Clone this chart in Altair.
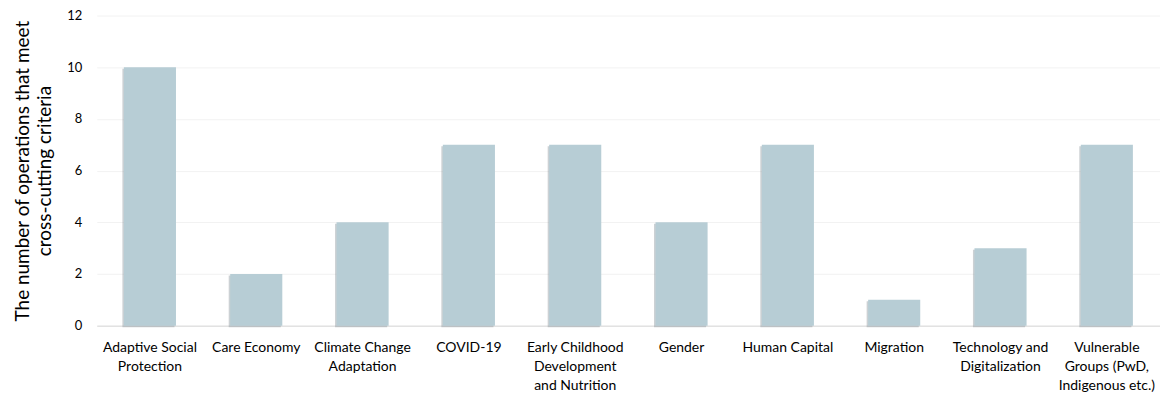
import altair as alt
import pandas as pd

categories = [
    "Adaptive Social Protection",
    "Care Economy",
    "Climate Change Adaptation",
    "COVID-19",
    "Early Childhood Development and Nutrition",
    "Gender",
    "Human Capital",
    "Migration",
    "Technology and Digitalization",
    "Vulnerable Groups (PwD, Indigenous etc.)",
]
label_lines = [
    "Adaptive Social|Protection",
    "Care Economy",
    "Climate Change|Adaptation",
    "COVID-19",
    "Early Childhood|Development|and Nutrition",
    "Gender",
    "Human Capital",
    "Migration",
    "Technology and|Digitalization",
    "Vulnerable|Groups (PwD,|Indigenous etc.)",
]
values = [10, 2, 4, 7, 7, 4, 7, 1, 3, 7]

df = pd.DataFrame({"cat": label_lines, "value": values})

FONT = "Lato"

x_enc = alt.X("cat:N", sort=label_lines, title=None,
              scale=alt.Scale(paddingInner=0.51, paddingOuter=0.255),
              axis=alt.Axis(labelExpr="split(datum.label, '|')", labelAngle=0,
                            labelFontSize=14, labelColor="#000000", labelFont=FONT,
                            ticks=False, domainColor="#d9d9d9", labelPadding=15,
                            labelLineHeight=19, labelLimit=200))
y_enc = alt.Y("value:Q", title=["The number of operations that meet", "cross-cutting criteria"],
              scale=alt.Scale(domain=[0, 12]),
              axis=alt.Axis(values=[0, 2, 4, 6, 8, 10, 12], grid=True, gridColor="#f2f2f2",
                            domain=False, ticks=False, labelFontSize=13, labelColor="#000000",
                            labelFont=FONT, labelPadding=15, titleFont=FONT, titleFontSize=19,
                            titleFontWeight="normal", titleColor="#000000", titlePadding=12,
                            titleLineHeight=22))

base = alt.Chart(df)
shadow = base.mark_bar(color="#8f9a9f", opacity=0.45, xOffset=-1.5, yOffset=1.5).encode(x=x_enc, y=y_enc)
bars = base.mark_bar(color="#b7cdd5").encode(x=x_enc, y=y_enc)

chart = alt.layer(shadow, bars).properties(
    width=1066, height=311,
    autosize=alt.AutoSizeParams(type="none"),
    padding={"left": 89, "top": 7, "right": 0, "bottom": 70},
).configure_view(stroke=None)

chart.save("out.html", embed_options={"renderer": "svg", "actions": False})
